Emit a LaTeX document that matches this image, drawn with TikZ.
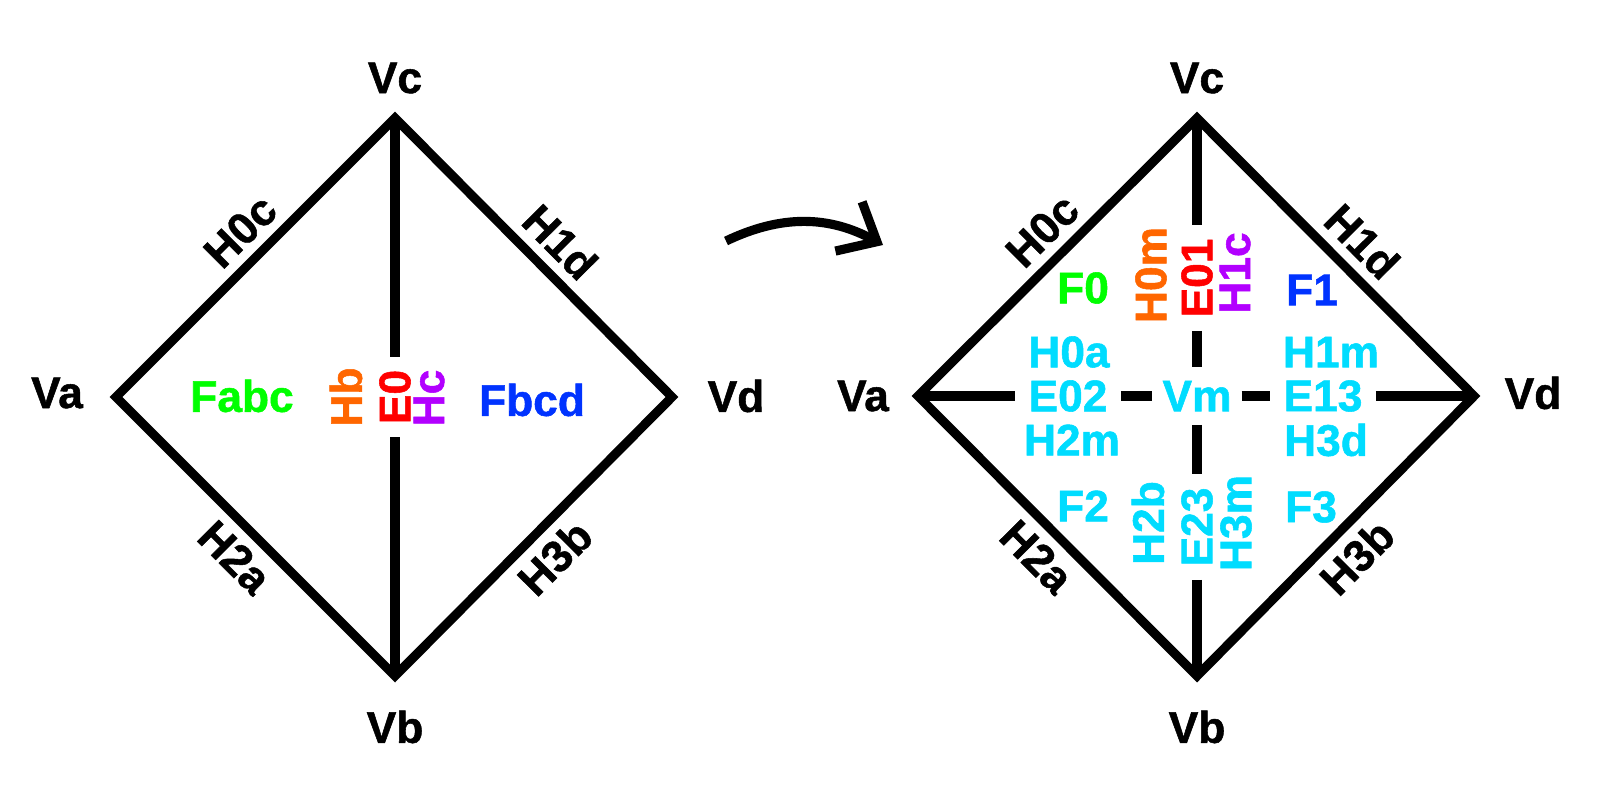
\documentclass[tikz,border=0pt]{standalone}
\usepackage{fontspec}
\setmainfont{Liberation Sans}[BoldFeatures={FakeBold=1.2}]
\usepackage{tikz}
\usetikzlibrary{arrows.meta}
\usepackage{xcolor}
\definecolor{mycyan}{RGB}{0, 220, 255}
\definecolor{mygreen}{RGB}{0, 255, 0}
\definecolor{myblue}{RGB}{0, 51, 255}
\definecolor{myorange}{RGB}{255, 102, 0}
\definecolor{myred}{RGB}{255, 0, 0}
\definecolor{mypurple}{RGB}{178, 0, 255}

\begin{document}
\begin{tikzpicture}[x=0.01cm,y=-0.01cm,line width=2.6pt,line join=miter,font=\fontsize{12.6}{14}\selectfont\bfseries]
    % estilos de las etiquetas
    \tikzstyle{lbl}=[inner sep=0pt]
    \tikzstyle{edgelbl}=[sloped,inner sep=2.6pt]
    \tikzstyle{cut}=[inner sep=2.5pt]
    \useasboundingbox (0,0) rectangle (1600,800);

    % rombo izquierdo
    \coordinate (a_1) at (116,397);
    \coordinate (c_1) at (395,118);
    \coordinate (d_1) at (672,397);
    \coordinate (b_1) at (395,676);
    \draw (a_1) -- (c_1) -- (d_1) -- (b_1) -- cycle;
    \node[lbl] (va_1) at (57,393) {Va};
    \node[lbl] (vc_1) at (395,78) {Vc};
    \node[lbl] (vd_1) at (736,396) {Vd};
    \node[lbl] (vb_1) at (395,727) {Vb};
    \node[lbl,text=mygreen] (fabc) at (242,396) {Fabc};
    \node[lbl,text=myblue] (fbcd) at (532,400) {Fbcd};
    \node[lbl,rotate=90,text=myorange] (hb_1) at (346,397) {Hb};
    \node[cut,rotate=90,text=myred] (e0_1) at (395,397) {E0};
    \node[lbl,rotate=90,text=mypurple] (hc_1) at (429,398) {Hc};
    \draw (c_1) -- (e0_1) -- (b_1);
    \path (a_1) -- node[edgelbl,above,pos=0.52] (h0c_1) {H0c} (c_1);
    \path (c_1) -- node[edgelbl,above,pos=0.52] (h1d_1) {H1d} (d_1);
    \path (a_1) -- node[edgelbl,below] (h2a_1) {H2a} (b_1);
    \path (b_1) -- node[edgelbl,below] (h3b_1) {H3b} (d_1);

    % flecha
    \coordinate (arr_s) at (726,241);
    \coordinate (arr_e) at (883,245);
    \draw[-{Straight Barb[length=3.2mm,width=5.6mm]}] (arr_s) to[bend left=27] (arr_e);

    % rombo derecho
    \coordinate (a_2) at (918,396);
    \coordinate (c_2) at (1197,118);
    \coordinate (d_2) at (1474,396);
    \coordinate (b_2) at (1197,676);
    \draw (a_2) -- (c_2) -- (d_2) -- (b_2) -- cycle;
    \node[lbl] (va_2) at (863,396) {Va};
    \node[lbl] (vc_2) at (1197,78) {Vc};
    \node[lbl] (vd_2) at (1533,393) {Vd};
    \node[lbl] (vb_2) at (1197,727) {Vb};
    \node[inner xsep=1.6pt,inner ysep=2.6pt,text=mycyan] (vm) at (1197,396) {Vm};
    \node[lbl,text=mygreen] (f0) at (1083,288) {F0};
    \node[lbl,text=myblue] (f1) at (1312,290) {F1};
    \node[lbl,text=mycyan] (f2) at (1083,506) {F2};
    \node[lbl,text=mycyan] (f3) at (1311,507) {F3};
    \node[lbl,rotate=90,text=myorange] (h0m) at (1151,275) {H0m};
    \node[cut,rotate=90,text=myred] (e01) at (1197,278) {E01};
    \node[lbl,rotate=90,text=mypurple] (h1c) at (1235,273) {H1c};
    \node[lbl,rotate=90,text=mycyan] (h2b) at (1148,523) {H2b};
    \node[cut,rotate=90,text=mycyan] (e23) at (1197,527) {E23};
    \node[lbl,rotate=90,text=mycyan] (h3m) at (1236,523) {H3m};
    \node[lbl,text=mycyan] (h0a) at (1069,352) {H0a};
    \node[cut,text=mycyan] (e02) at (1068,396) {E02};
    \node[lbl,text=mycyan] (h2m) at (1072,440) {H2m};
    \node[lbl,text=mycyan] (h1m) at (1331,352) {H1m};
    \node[cut,text=mycyan] (e13) at (1323,396) {E13};
    \node[lbl,text=mycyan] (h3d) at (1326,440) {H3d};
    \draw (a_2) -- (e02) -- (vm) -- (e13) -- (d_2);
    \draw (c_2) -- (e01) -- (vm) -- (e23) -- (b_2);
    \path (a_2) -- node[edgelbl,above,pos=0.52] (h0c_2) {H0c} (c_2);
    \path (c_2) -- node[edgelbl,above,pos=0.52] (h1d_2) {H1d} (d_2);
    \path (a_2) -- node[edgelbl,below] (h2a_2) {H2a} (b_2);
    \path (b_2) -- node[edgelbl,below] (h3b_2) {H3b} (d_2);
\end{tikzpicture}
\end{document}
